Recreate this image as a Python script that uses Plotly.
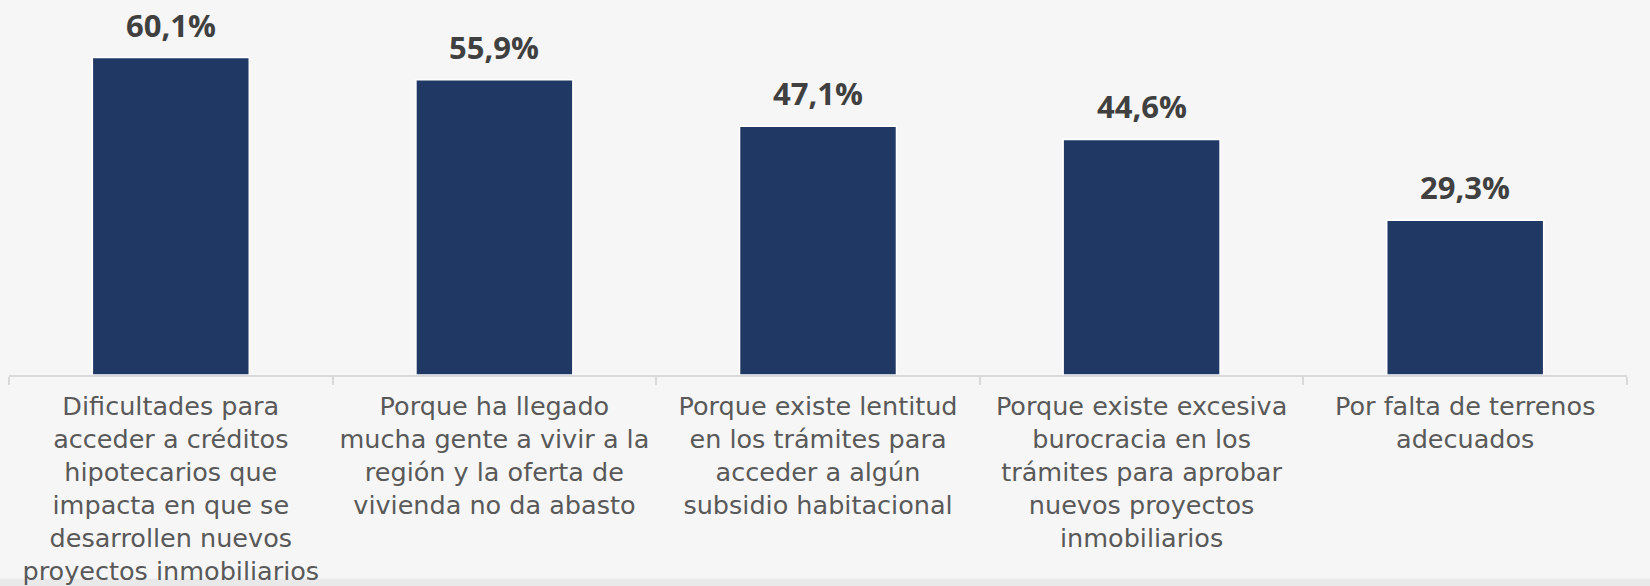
import plotly.graph_objects as go

categories = [
    "Dificultades para<br>acceder a créditos<br>hipotecarios que<br>impacta en que se<br>desarrollen nuevos<br>proyectos inmobiliarios",
    "Porque ha llegado<br>mucha gente a vivir a la<br>región y la oferta de<br>vivienda no da abasto",
    "Porque existe lentitud<br>en los trámites para<br>acceder a algún<br>subsidio habitacional",
    "Porque existe excesiva<br>burocracia en los<br>trámites para aprobar<br>nuevos proyectos<br>inmobiliarios",
    "Por falta de terrenos<br>adecuados",
]
values = [60.1, 55.9, 47.1, 44.6, 29.3]
labels = ["60,1%", "55,9%", "47,1%", "44,6%", "29,3%"]

fig = go.Figure()
fig.add_trace(
    go.Bar(
        x=categories,
        y=values,
        marker=dict(color="#203864", line=dict(color="white", width=1.5)),
        width=0.485,
        hoverinfo="skip",
    )
)

for cat, v, lab in zip(categories, values, labels):
    fig.add_annotation(
        x=cat, y=v, text=f"<b>{lab}</b>", showarrow=False,
        yanchor="bottom", yshift=10,
        font=dict(family="Open Sans", size=31, color="#404040"),
    )

# grey strip along the bottom edge
fig.add_shape(
    type="rect", xref="paper", yref="paper",
    x0=-0.01, x1=1.02, y0=-0.98, y1=-0.558,
    fillcolor="#e9e9e9", line=dict(width=0), layer="below",
)

fig.update_xaxes(
    showline=True, linecolor="#d9d9d9", linewidth=2,
    ticks="outside", tickson="boundaries", ticklen=8, tickcolor="#d9d9d9", tickwidth=2,
    tickfont=dict(family="DejaVu Sans", size=25.5, color="#595959"),
    tickangle=0, ticklabelstandoff=7, automargin=False,
)
fig.update_yaxes(range=[0, 69.1], visible=False, showgrid=False)

fig.update_layout(
    width=1650, height=586,
    margin=dict(l=9, r=23, t=10, b=211),
    paper_bgcolor="#f6f6f6", plot_bgcolor="rgba(0,0,0,0)",
    showlegend=False,
)

fig.write_html(
    "out.html",
    config={"displayModeBar": False},
    post_script="document.body.style.margin='0';",
)
